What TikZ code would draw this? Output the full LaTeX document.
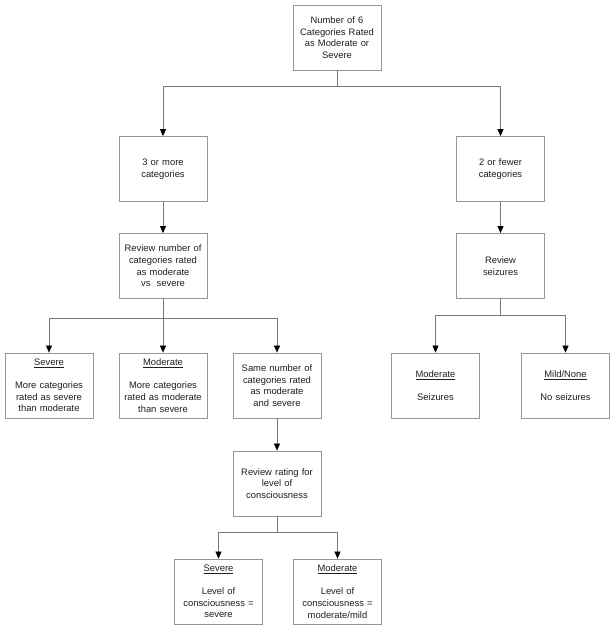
\documentclass[tikz,border=0pt]{standalone}
\usepackage{fontspec}
\setmainfont{Liberation Sans}
\usetikzlibrary{arrows.meta}
\definecolor{boxgray}{RGB}{150,150,150}
\definecolor{linegray}{RGB}{120,120,120}
\definecolor{txt}{RGB}{30,30,30}
\tikzset{
  box/.style={draw=boxgray, line width=0.8pt, minimum width=88pt, minimum height=65pt,
    text width=84pt, align=center, inner sep=1pt, text=txt,
    font=\fontsize{9.4}{11.6}\selectfont},
  conn/.style={draw=linegray, line width=0.7pt},
  arr/.style={conn, -{Triangle[length=7pt,width=6pt,color=black]}}
}
\begin{document}
\begin{tikzpicture}[x=1pt,y=-1pt]
\useasboundingbox (0,0) rectangle (615,631);
\node[box] (top) at (337,37.5) {Number of 6\\Categories Rated\\as Moderate or\\Severe};
\node[box] (three) at (163,169) {3 or more\\categories};
\node[box] (two) at (500.5,169) {2 or fewer\\categories};
\node[box] (revnum) at (163,266) {Review number of\\categories rated\\as moderate\\vs\ \ severe};
\node[box] (revseiz) at (500.5,266) {Review\\seizures};
\node[box] (sev1) at (49,385.5) {\underline{Severe}\\[11.6pt]More categories\\rated as severe\\than moderate};
\node[box] (mod1) at (163,385.5) {\underline{Moderate}\\[11.6pt]More categories\\rated as moderate\\than severe};
\node[box] (same) at (277,385.5) {Same number of\\categories rated\\as moderate\\and severe};
\node[box] (mods) at (435.5,385.5) {\underline{Moderate}\\[11.6pt]Seizures};
\node[box] (mild) at (565.5,385.5) {\underline{Mild/None}\\[11.6pt]No seizures};
\node[box] (revrate) at (277,483.5) {Review rating for\\level of\\consciousness};
\node[box] (sev2) at (218.5,591.5) {\underline{Severe}\\[11.6pt]Level of\\consciousness =\\severe};
\node[box] (mod2) at (337.5,591.5) {\underline{Moderate}\\[11.6pt]Level of\\consciousness =\\moderate/mild};

\coordinate (j1) at (337,86);
\coordinate (j2) at (163,318);
\coordinate (j3) at (500.5,315);
\coordinate (j4) at (277,532);

\draw[conn] (top.south) -- (j1);
\draw[arr] (j1) -| (three.north);
\draw[arr] (j1) -| (two.north);
\draw[arr] (three.south) -- (revnum.north);
\draw[arr] (two.south) -- (revseiz.north);
\draw[conn] (revnum.south) -- (j2);
\draw[arr] (j2) -| (sev1.north);
\draw[arr] (j2) -- (mod1.north);
\draw[arr] (j2) -| (same.north);
\draw[conn] (revseiz.south) -- (j3);
\draw[arr] (j3) -| (mods.north);
\draw[arr] (j3) -| (mild.north);
\draw[arr] (same.south) -- (revrate.north);
\draw[conn] (revrate.south) -- (j4);
\draw[arr] (j4) -| (sev2.north);
\draw[arr] (j4) -| (mod2.north);
\end{tikzpicture}
\end{document}
